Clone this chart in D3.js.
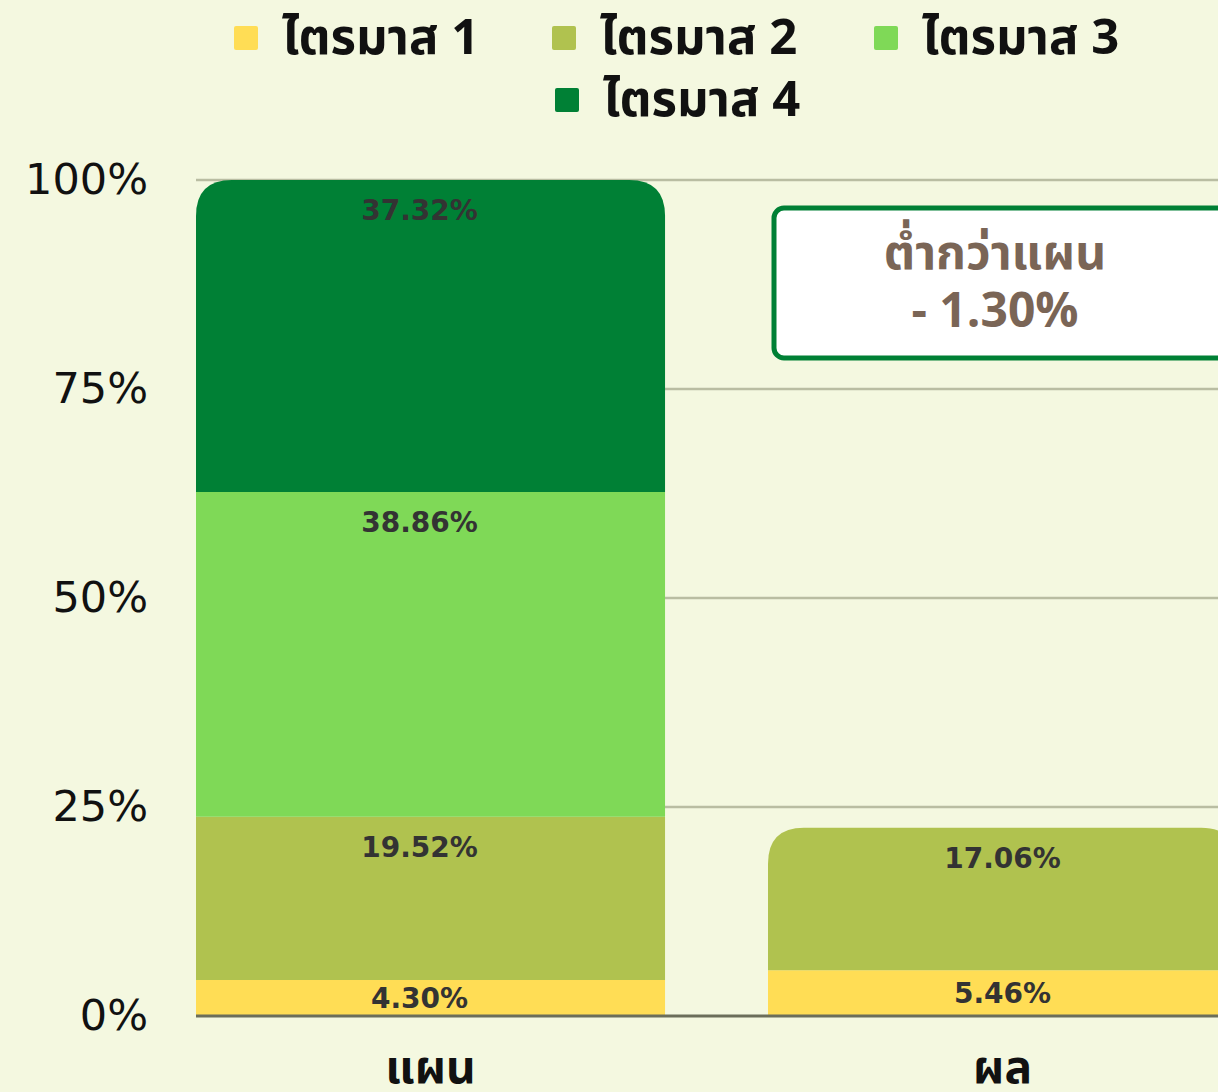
<!DOCTYPE html>
<html>
<head>
<meta charset="utf-8">
<script src="https://cdn.jsdelivr.net/npm/d3@7"></script>
<style>
  html, body { margin: 0; padding: 0; background: #F4F8E0; }
  svg { display: block; font-family: "Noto Sans Thai", "Noto Sans", sans-serif; }
</style>
</head>
<body>
<svg id="vis"></svg>
<script>
// canvas size from the picture
const width = 1218;
const height = 1092;

// data
const categories = ["แผน", "ผล"];
const quarters = ["ไตรมาส 1", "ไตรมาส 2", "ไตรมาส 3", "ไตรมาส 4"];
const planValues = [4.30, 19.52, 38.86, 37.32];
const actualValues = [5.46, 17.06];
const yTicks = [0, 25, 50, 75, 100];
const colors = ["#FFDD55", "#B0C24F", "#7FD957", "#008035"];
const noteLines = ["ต่ำกว่าแผน", "- 1.30%"];

const margin = {top: 180, bottom: 76, left: 196};

// x band: step ~572, bar ~469 (second bar runs off the right edge)
const step = 572;
const xScale = d3.scaleBand()
    .domain(categories)
    .range([margin.left - 0.09 * step, margin.left - 0.09 * step + 2 * step])
    .paddingInner(0.18)
    .paddingOuter(0.09);

const yScale = d3.scaleLinear()
    .domain([0, 100])
    .range([height - margin.bottom, margin.top]);

const cScale = d3.scaleOrdinal().domain(quarters).range(colors);

const svg = d3.select("#vis")
    .attr("width", width)
    .attr("height", height);

svg.append("rect").attr("width", width).attr("height", height).attr("fill", "#F4F8E0");

// y axis labels
const yAxis = d3.axisLeft(yScale)
    .tickValues(yTicks)
    .tickSize(0)
    .tickPadding(48)
    .tickFormat(d => d + "%");

const yg = svg.append("g")
    .attr("transform", `translate(${margin.left},0)`)
    .call(yAxis);
yg.select(".domain").remove();
yg.selectAll("text")
    .attr("font-size", 43)
    .attr("fill", "#111")
    .attr("font-family", "'DejaVu Sans', sans-serif");

// gridlines
svg.append("g").selectAll("line")
    .data(yTicks.filter(d => d > 0))
    .join("line")
    .attr("x1", margin.left).attr("x2", width)
    .attr("y1", d => yScale(d)).attr("y2", d => yScale(d))
    .attr("stroke", "#B9BDA2").attr("stroke-width", 2.5);

// stacked segments
const rows = categories.map((c, i) => {
    const vals = i === 0 ? planValues : actualValues;
    let acc = 0;
    return vals.map((v, k) => {
        const seg = {cat: c, q: quarters[k], v, y0: acc, y1: acc + v, top: k === vals.length - 1};
        acc += v;
        return seg;
    });
}).flat();

const r = 36;
function segPath(d) {
    const x0 = xScale(d.cat), x1 = x0 + xScale.bandwidth();
    const yb = yScale(d.y0), yt = yScale(d.y1);
    if (!d.top) return `M${x0},${yb}V${yt}H${x1}V${yb}Z`;
    return `M${x0},${yb}V${yt + r}Q${x0},${yt} ${x0 + r},${yt}H${x1 - r}Q${x1},${yt} ${x1},${yt + r}V${yb}Z`;
}

svg.append("g").selectAll("path")
    .data(rows)
    .join("path")
    .attr("d", segPath)
    .attr("fill", d => cScale(d.q));

// baseline
svg.append("line")
    .attr("x1", margin.left).attr("x2", width)
    .attr("y1", yScale(0)).attr("y2", yScale(0))
    .attr("stroke", "#6B6E5A").attr("stroke-width", 3);

// value labels, near segment top (clamped to segment middle when short)
// labels on the first bar sit a little left of centre in the picture
svg.append("g").selectAll("text")
    .data(rows)
    .join("text")
    .attr("x", d => xScale(d.cat) + xScale.bandwidth() / 2 + (d.cat === categories[0] ? -11 : 0))
    .attr("y", d => {
        const yt = yScale(d.y1), yb = yScale(d.y0);
        return Math.min(yt + 32, (yt + yb) / 2 + 2);
    })
    .attr("text-anchor", "middle")
    .attr("dominant-baseline", "middle")
    .attr("font-size", 28)
    .attr("font-weight", "bold")
    .attr("fill", "#333")
    .attr("font-family", "'DejaVu Sans', sans-serif")
    .text(d => d.v.toFixed(2) + "%");

// category labels
svg.append("g").selectAll("text")
    .data(categories)
    .join("text")
    .attr("x", d => xScale(d) + xScale.bandwidth() / 2)
    .attr("y", 1070)
    .attr("text-anchor", "middle")
    .attr("dominant-baseline", "middle")
    .attr("font-size", 46)
    .attr("font-weight", "bold")
    .attr("fill", "#111")
    .text(d => d);

// legend
const legendPos = [[234, 38], [552, 38], [874, 38], [555, 100]];
const lg = svg.append("g").selectAll("g")
    .data(quarters)
    .join("g")
    .attr("transform", (d, i) => `translate(${legendPos[i][0]},${legendPos[i][1]})`);
lg.append("rect")
    .attr("x", 0).attr("y", -12).attr("width", 24).attr("height", 24).attr("rx", 2)
    .attr("fill", d => cScale(d));
lg.append("text")
    .attr("x", 48).attr("y", 2)
    .attr("dominant-baseline", "middle")
    .attr("font-size", 49)
    .attr("font-weight", "bold")
    .attr("fill", "#111")
    .text(d => d);

// annotation box
const note = svg.append("g");
note.append("rect")
    .attr("x", 774).attr("y", 208).attr("width", 480).attr("height", 150).attr("rx", 10)
    .attr("fill", "#fff").attr("stroke", "#008035").attr("stroke-width", 5);
note.selectAll("text")
    .data(noteLines)
    .join("text")
    .attr("x", 995)
    .attr("y", (d, i) => 256 + i * 58)
    .attr("text-anchor", "middle")
    .attr("dominant-baseline", "middle")
    .attr("font-size", 48)
    .attr("font-weight", "bold")
    .attr("fill", "#7A6556")
    .text(d => d);
</script>
</body>
</html>
